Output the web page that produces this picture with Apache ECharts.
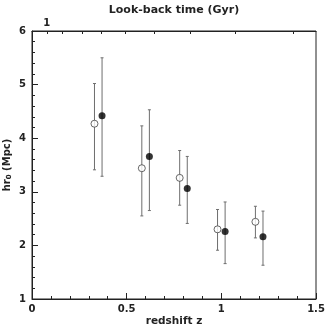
<!DOCTYPE html>
<html>
<head>
<meta charset="utf-8">
<script src="https://cdn.jsdelivr.net/npm/echarts@6/dist/echarts.min.js"></script>
<style>
html, body { margin: 0; padding: 0; background: #fff; }
#chart { width: 332px; height: 329px; }
</style>
</head>
<body>
<div id="chart"></div>
<script>
// open circles
var openZ = [0.33, 0.58, 0.78, 0.98, 1.18];
var openR = [4.27, 3.44, 3.26, 2.30, 2.44];
var openLo = [3.41, 2.55, 2.75, 1.91, 2.14];
var openHi = [5.02, 4.23, 3.77, 2.67, 2.73];
// filled circles
var fillZ = [0.37, 0.62, 0.82, 1.02, 1.22];
var fillR = [4.42, 3.66, 3.06, 2.26, 2.16];
var fillLo = [3.29, 2.65, 2.41, 1.66, 1.63];
var fillHi = [5.50, 4.53, 3.66, 2.81, 2.64];
// look-back time ticks (redshift of each Gyr)
var lookbackTicks = [0.078, 0.162, 0.263, 0.368, 0.491, 0.644, 0.838, 1.072, 1.379];
var lookbackLabels = [0.078];

var font = 'DejaVu Sans';

var dom = document.getElementById('chart');
var chart = echarts.init(dom);

function errData(z, lo, hi) {
    return z.map(function (v, i) { return [v, lo[i], hi[i]]; });
}

function renderErr(params, api) {
    var x = api.value(0);
    var lo = api.coord([x, api.value(1)]);
    var hi = api.coord([x, api.value(2)]);
    var cap = 1.5;
    var st = { stroke: '#6e6e6e', lineWidth: 1 };
    return {
        type: 'group',
        children: [
            { type: 'line', shape: { x1: lo[0], y1: lo[1], x2: hi[0], y2: hi[1] }, style: st },
            { type: 'line', shape: { x1: lo[0] - cap, y1: lo[1], x2: lo[0] + cap, y2: lo[1] }, style: st },
            { type: 'line', shape: { x1: hi[0] - cap, y1: hi[1], x2: hi[0] + cap, y2: hi[1] }, style: st }
        ]
    };
}

var option = {
    animation: false,
    backgroundColor: '#fff',
    grid: {
        left: 32, right: 16, top: 31, bottom: 30,
        containLabel: false,
        outerBoundsMode: 'none',
        show: true, borderColor: '#222', borderWidth: 1
    },
    xAxis: [{
        type: 'value',
        min: 0, max: 1.5, interval: 0.5,
        name: 'redshift z',
        nameLocation: 'middle',
        nameGap: 17,
        nameMoveOverlap: false,
        nameTextStyle: { fontFamily: font, fontSize: 10.5, fontWeight: 'bold', color: '#222' },
        axisLine: { show: true, lineStyle: { color: '#222', width: 1 } },
        axisTick: { inside: true, length: 6, lineStyle: { color: '#222' } },
        minorTick: { show: true, splitNumber: 5, length: 3, lineStyle: { color: '#222' } },
        splitLine: { show: false },
        axisLabel: {
            margin: 5, fontFamily: font, fontSize: 10, fontWeight: 'bold', color: '#222',
            formatter: function (v) { return v === 0 ? '0' : v === 1 ? '1' : String(v); }
        }
    }, {
        type: 'value',
        position: 'top',
        min: 0, max: 1.5,
        name: 'Look-back time (Gyr)',
        nameLocation: 'middle',
        nameGap: 15,
        nameMoveOverlap: false,
        nameTextStyle: { fontFamily: font, fontSize: 11, fontWeight: 'bold', color: '#222' },
        axisLine: { show: true, lineStyle: { color: '#222', width: 1 } },
        axisTick: { inside: true, length: 3, customValues: lookbackTicks, lineStyle: { color: '#222' } },
        splitLine: { show: false },
        axisLabel: {
            margin: 3, fontFamily: font, fontSize: 10, fontWeight: 'bold', color: '#222',
            customValues: lookbackLabels,
            formatter: function () { return '1'; }
        }
    }],
    yAxis: {
        type: 'value',
        min: 1, max: 6, interval: 1,
        name: '{a|hr}{s|0}{a| (Mpc)}',
        nameLocation: 'middle',
        nameGap: 19,
        nameRotate: 90,
        nameMoveOverlap: false,
        nameTextStyle: {
            color: '#222',
            rich: {
                a: { fontFamily: font, fontSize: 10, fontWeight: 'bold', color: '#222', lineHeight: 12 },
                s: { fontFamily: font, fontSize: 7, fontWeight: 'bold', color: '#222', verticalAlign: 'bottom', lineHeight: 12 }
            }
        },
        axisLine: { show: true, lineStyle: { color: '#222', width: 1 } },
        axisTick: { inside: true, length: 6, lineStyle: { color: '#222' } },
        minorTick: { show: true, splitNumber: 5, length: 3, lineStyle: { color: '#222' } },
        splitLine: { show: false },
        axisLabel: { margin: 6, fontFamily: font, fontSize: 10, fontWeight: 'bold', color: '#222' }
    },
    series: [{
        type: 'custom',
        renderItem: renderErr,
        data: errData(openZ, openLo, openHi),
        encode: { x: 0, y: [1, 2] },
        z: 1
    }, {
        type: 'custom',
        renderItem: renderErr,
        data: errData(fillZ, fillLo, fillHi),
        encode: { x: 0, y: [1, 2] },
        z: 1
    }, {
        type: 'scatter',
        symbol: 'circle',
        symbolSize: 7,
        data: openZ.map(function (z, i) { return [z, openR[i]]; }),
        itemStyle: { color: '#fff', borderColor: '#444', borderWidth: 1 },
        z: 3
    }, {
        type: 'scatter',
        symbol: 'circle',
        symbolSize: 7,
        data: fillZ.map(function (z, i) { return [z, fillR[i]]; }),
        itemStyle: { color: '#000' },
        z: 3
    }]
};

chart.setOption(option);
</script>
</body>
</html>
